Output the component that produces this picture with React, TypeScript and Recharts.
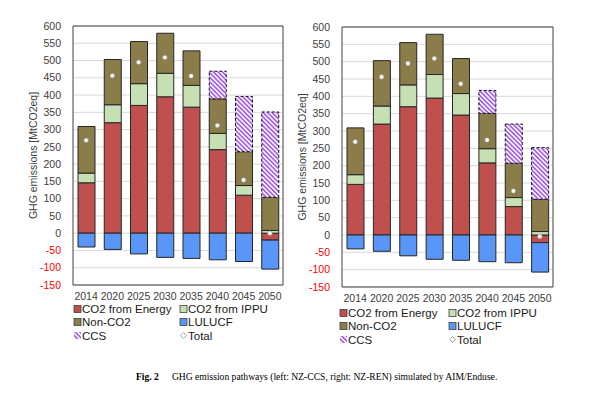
import React from 'react';
import { ComposedChart, Bar, Line, XAxis, YAxis, CartesianGrid, ReferenceArea } from 'recharts';

const years = ['2014', '2020', '2025', '2030', '2035', '2040', '2045', '2050'];
const yTicks = [-150, -100, -50, 0, 50, 100, 150, 200, 250, 300, 350, 400, 450, 500, 550, 600];

// Left panel: NZ-CCS
const energyL = [146, 320, 370, 395, 365, 242, 110, -20];
const ippuL = [28, 52, 63, 68, 63, 47, 28, 8];
const nonco2L = [135, 131, 122, 116, 100, 100, 98, 96];
const ccsL = [0, 0, 0, 0, 0, 80, 160, 247];
const lulucfL = [-40, -47, -60, -70, -73, -77, -82, -84];
const totalL = [269, 456, 495, 509, 455, 312, 154, 0];

// Right panel: NZ-REN
const energyR = [146, 320, 370, 395, 346, 208, 82, -22];
const ippuR = [28, 52, 63, 68, 62, 41, 26, 10];
const nonco2R = [135, 131, 122, 116, 101, 102, 99, 93];
const ccsR = [0, 0, 0, 0, 0, 66, 113, 149];
const lulucfR = [-40, -47, -60, -70, -73, -77, -80, -85];
const totalR = [269, 456, 495, 509, 436, 274, 127, -4];

const legendLabels = ['CO2 from Energy', 'CO2 from IPPU', 'Non-CO2', 'LULUCF', 'CCS', 'Total'];
const captionBold = 'Fig. 2';
const captionText = 'GHG emission pathways (left: NZ-CCS, right: NZ-REN) simulated by AIM/Enduse.';

const C = {
  energy: '#C0504D',
  ippu: '#C6E0B4',
  nonco2: '#8A7D49',
  lulucf: '#5A96F8',
  ccs: '#A55EE8',
  border: '#262626',
  frame: '#404040',
  grid: '#D9D9D9',
  tick: '#404040',
};

const FONT = '"Liberation Sans", Arial, sans-serif';

function buildRows(e: number[], i: number[], n: number[], c: number[], l: number[], t: number[]) {
  return years.map((y, k) => ({ year: y, energy: e[k], ippu: i[k], nonco2: n[k], ccs: c[k], lulucf: l[k], total: t[k] }));
}

const dataL = buildRows(energyL, ippuL, nonco2L, ccsL, lulucfL, totalL);
const dataR = buildRows(energyR, ippuR, nonco2R, ccsR, lulucfR, totalR);

const YTick = (props: any) => {
  const { x, y, payload } = props;
  const v = payload.value;
  return (
    <text x={x - 12} y={y} dy="0.35em" textAnchor="end" fontSize={10.5} fill={v < 0 ? '#FF0000' : C.tick} fontFamily={FONT}>
      {v}
    </text>
  );
};

const XTick = (props: any) => {
  const { x, y, payload } = props;
  return (
    <text x={x} y={y + 15} textAnchor="middle" fontSize={10.5} fill={C.tick} fontFamily={FONT}>
      {payload.value}
    </text>
  );
};

const TotalDot = (props: any) => {
  const { cx, cy } = props;
  if (cx == null || cy == null) return null;
  return <circle cx={cx} cy={cy} r={2.3} fill="#FFFFFF" stroke="#8C8C8C" strokeWidth={0.6} />;
};

function Panel({ data, pid, width, height, margin }: any) {
  return (
    <ComposedChart width={width} height={height} data={data} margin={margin} stackOffset="sign">
      <defs>
        <pattern id={pid} patternUnits="userSpaceOnUse" width={3.2} height={3.2} patternTransform="rotate(-45)">
          <rect x={0} y={0} width={3.2} height={3.2} fill="#FFFFFF" />
          <rect x={0} y={0} width={1.7} height={3.2} fill={C.ccs} />
        </pattern>
      </defs>
      <CartesianGrid vertical={false} stroke={C.grid} strokeWidth={1} />
      <XAxis dataKey="year" tickLine={false} axisLine={false} tickSize={0} tickMargin={0} height={25} tick={<XTick />} interval={0} />
      <YAxis
        domain={[-150, 600]}
        ticks={yTicks}
        type="number"
        tickLine={false}
        axisLine={false}
        tickSize={0}
        tickMargin={0}
        width={46}
        interval={0}
        tick={<YTick />}
        label={{
          value: 'GHG emissions [MtCO2eq]',
          angle: -90,
          position: 'insideLeft',
          offset: 6,
          style: { textAnchor: 'middle', fontSize: 10.5, fill: C.tick, fontFamily: FONT },
        }}
      />
      <Bar dataKey="energy" stackId="s" fill={C.energy} stroke={C.border} strokeWidth={1} barSize={17} isAnimationActive={false} />
      <Bar dataKey="ippu" stackId="s" fill={C.ippu} stroke={C.border} strokeWidth={1} barSize={17} isAnimationActive={false} />
      <Bar dataKey="nonco2" stackId="s" fill={C.nonco2} stroke={C.border} strokeWidth={1} barSize={17} isAnimationActive={false} />
      <Bar dataKey="ccs" stackId="s" fill={`url(#${pid})`} stroke="#111111" strokeWidth={1} strokeDasharray="3 2" barSize={17} isAnimationActive={false} />
      <Bar dataKey="lulucf" stackId="s" fill={C.lulucf} stroke={C.border} strokeWidth={1} barSize={17} isAnimationActive={false} />
      <Line dataKey="total" stroke="none" strokeWidth={0} dot={<TotalDot />} activeDot={false} isAnimationActive={false} legendType="none" />
      <ReferenceArea y1={-150} y2={600} fill="none" stroke={C.frame} strokeWidth={1} ifOverflow="visible" />
    </ComposedChart>
  );
}

function LegendItems({ pid, x1, x2, rows }: { pid: string; x1: number; x2: number; rows: number[] }) {
  const fs = 11.5;
  const sw = 7;
  const items = [
    { label: legendLabels[0], x: x1, y: rows[0], kind: 'sq', color: C.energy },
    { label: legendLabels[1], x: x2, y: rows[0], kind: 'sq', color: C.ippu },
    { label: legendLabels[2], x: x1, y: rows[1], kind: 'sq', color: C.nonco2 },
    { label: legendLabels[3], x: x2, y: rows[1], kind: 'sq', color: C.lulucf },
    { label: legendLabels[4], x: x1, y: rows[2], kind: 'hatch', color: '' },
    { label: legendLabels[5], x: x2, y: rows[2], kind: 'dia', color: '' },
  ];
  return (
    <g>
      {items.map((it, k) => (
        <g key={k}>
          {it.kind === 'sq' && (
            <rect x={it.x} y={it.y - sw / 2} width={sw} height={sw} fill={it.color} stroke={C.frame} strokeWidth={0.8} />
          )}
          {it.kind === 'hatch' && <rect x={it.x} y={it.y - sw / 2} width={sw} height={sw} fill={`url(#${pid})`} />}
          {it.kind === 'dia' && (
            <path
              d={`M ${it.x + 3.5} ${it.y - 3} L ${it.x + 6.5} ${it.y} L ${it.x + 3.5} ${it.y + 3} L ${it.x + 0.5} ${it.y} Z`}
              fill="#FFFFFF"
              stroke="#8C8C8C"
              strokeWidth={0.8}
            />
          )}
          <text x={it.x + sw + 1} y={it.y} dy="0.36em" fontSize={fs} fill="#1A1A1A" fontFamily={FONT}>
            {it.label}
          </text>
        </g>
      ))}
    </g>
  );
}

export default function App() {
  return (
    <div style={{ position: 'absolute', left: 0, top: 0, width: 600, height: 397, background: '#FFFFFF', overflow: 'hidden', fontFamily: FONT }}>
      <div style={{ position: 'absolute', left: 0, top: 0 }}>
        <Panel data={dataL} pid="hatchL" width={290} height={310} margin={{ top: 26, right: 7, bottom: 0, left: 27 }} />
      </div>
      <div style={{ position: 'absolute', left: 270, top: 0 }}>
        <Panel data={dataR} pid="hatchR" width={290} height={312} margin={{ top: 27, right: 7, bottom: 0, left: 26 }} />
      </div>
      <svg width={600} height={397} style={{ position: 'absolute', left: 0, top: 0, pointerEvents: 'none' }}>
        <defs>
          <pattern id="hatchLeg" patternUnits="userSpaceOnUse" width={3.2} height={3.2} patternTransform="rotate(-45)">
            <rect x={0} y={0} width={3.2} height={3.2} fill="#FFFFFF" />
            <rect x={0} y={0} width={1.7} height={3.2} fill={C.ccs} />
          </pattern>
        </defs>
        <LegendItems pid="hatchLeg" x1={74} x2={180} rows={[309, 322, 335.5]} />
        <LegendItems pid="hatchLeg" x1={340} x2={449} rows={[313, 326, 339.5]} />
        <text x={136} y={380} fontSize={9.6} fill="#000000" fontFamily='"Liberation Serif", "Times New Roman", serif'>
          <tspan fontWeight="bold">{captionBold}</tspan>
          <tspan dx={13}>{captionText}</tspan>
        </text>
      </svg>
    </div>
  );
}
